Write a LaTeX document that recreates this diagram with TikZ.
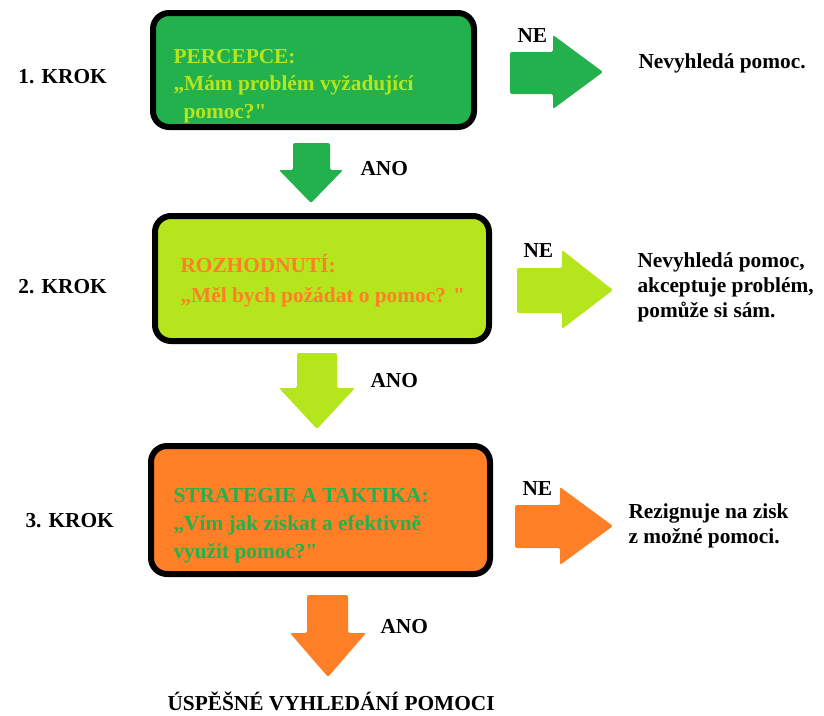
\documentclass[tikz,border=0pt]{standalone}
\usepackage{fontspec}
\setmainfont{Liberation Serif}[Ligatures=TeXOff]
\definecolor{krokgreen}{RGB}{34,177,76}
\definecolor{kroklime}{RGB}{181,230,29}
\definecolor{krokorange}{RGB}{255,127,39}
\tikzset{every picture/.style={line width=0.75pt}}
\begin{document}
\begin{tikzpicture}[x=0.75pt, y=-0.75pt,
    box/.style={draw=black, line width=4.5pt, rounded corners=12pt},
    blok/.style={rounded corners=1.5pt},
    txt/.style={anchor=base west, inner sep=0pt, align=left, font=\fontsize{16}{#1}\selectfont\bfseries},
    txt/.default=20]
    \useasboundingbox (0,0) rectangle (824,715);
    \draw[box, fill=krokgreen] (153,13) rectangle (474,127);
    \draw[box, fill=kroklime] (155,216) rectangle (489,341);
    \draw[box, fill=krokorange] (151,446) rectangle (490,574);
    \node[txt=20.6, color=kroklime] (percepce) at (173,118) {PERCEPCE:\\„Mám problém vyžadující\\\hspace*{7.5pt}pomoc?"};
    \node[txt=22.5, color=krokorange] (rozhodnuti) at (180,302) {ROZHODNUTÍ:\\„Měl bych požádat o pomoc? "};
    \node[txt=21, color=krokgreen] (strategie) at (173,558) {STRATEGIE A TAKTIKA:\\„Vím jak získat a efektivně\\využít pomoc?"};
    \node[txt] (krok1) at (18,83) {1. KROK};
    \node[txt] (krok2) at (18,293) {2. KROK};
    \node[txt] (krok3) at (25,527) {3. KROK};
    \fill[krokgreen, blok] (510,52) -- (553,52) -- (553,35) -- (603,72) -- (553,109) -- (553,94) -- (510,94) -- cycle;
    \fill[kroklime, blok] (517,268) -- (562,268) -- (562,250) -- (613,290) -- (562,329) -- (562,313) -- (517,313) -- cycle;
    \fill[krokorange, blok] (515,505) -- (560,505) -- (560,487) -- (613,526) -- (560,565) -- (560,548) -- (515,548) -- cycle;
    \fill[krokgreen, blok] (293,143) -- (330,143) -- (330,170) -- (343,170) -- (311,203) -- (279,170) -- (293,170) -- cycle;
    \fill[kroklime, blok] (297,353) -- (337,353) -- (337,388) -- (355,388) -- (317,429) -- (279,388) -- (297,388) -- cycle;
    \fill[krokorange, blok] (307,595) -- (348,595) -- (348,633) -- (366,633) -- (328,677) -- (290,633) -- (307,633) -- cycle;
    \node[txt] (ne1) at (517,42) {NE};
    \node[txt] (ne2) at (523,257) {NE};
    \node[txt] (ne3) at (522,495) {NE};
    \node[txt] (ano1) at (360,175) {ANO};
    \node[txt] (ano2) at (370,387) {ANO};
    \node[txt] (ano3) at (380,633) {ANO};
    \node[txt] (vysledek1) at (638,68) {Nevyhledá pomoc.};
    \node[txt=18.4] (vysledek2) at (637,317) {Nevyhledá pomoc,\\akceptuje problém,\\pomůže si sám.};
    \node[txt=18.75] (vysledek3) at (628,543) {Rezignuje na zisk\\z možné pomoci.};
    \node[txt] (uspech) at (167,710) {ÚSPĚŠNÉ VYHLEDÁNÍ POMOCI};
\end{tikzpicture}
\end{document}
